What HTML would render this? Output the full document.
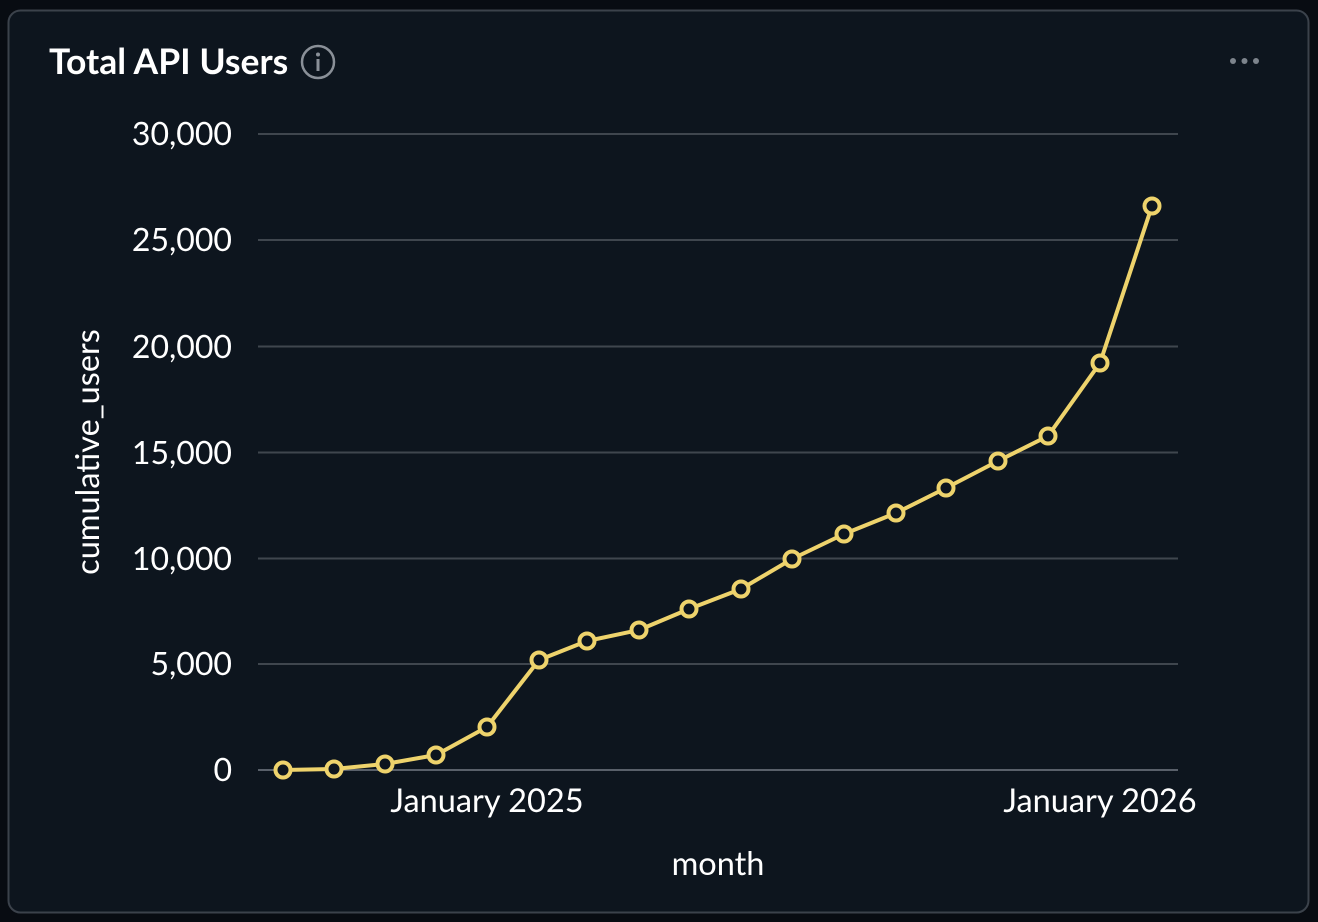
<!DOCTYPE html>
<html><head><style>
html,body{margin:0;padding:0;background:#080c12;width:1318px;height:922px;overflow:hidden}
</style></head><body>
<svg width="1318" height="922" xmlns="http://www.w3.org/2000/svg" font-family="Lato, 'Liberation Sans', sans-serif">
<rect x="8.5" y="10.5" width="1300" height="902" rx="12" fill="#0d151e" stroke="#3b424b" stroke-width="2"/>
<text x="49" y="74" font-size="35.5" font-weight="bold" fill="#ffffff">Total API Users</text>
<circle cx="318" cy="62" r="16" fill="none" stroke="#8a9098" stroke-width="2.5"/>
<circle cx="318" cy="54.5" r="2" fill="#8a9098"/>
<rect x="316.5" y="59" width="3" height="12" fill="#8a9098"/>
<circle cx="1233" cy="61" r="3" fill="#7d848c"/><circle cx="1244.5" cy="61" r="3" fill="#7d848c"/><circle cx="1256" cy="61" r="3" fill="#7d848c"/>
<g stroke="#3f464e" stroke-width="2">
<line x1="258" y1="134" x2="1178" y2="134"/><line x1="258" y1="240" x2="1178" y2="240"/>
<line x1="258" y1="346.5" x2="1178" y2="346.5"/><line x1="258" y1="452.5" x2="1178" y2="452.5"/>
<line x1="258" y1="558.5" x2="1178" y2="558.5"/><line x1="258" y1="664" x2="1178" y2="664"/>
<line x1="258" y1="770" x2="1178" y2="770" stroke="#59606a"/>
</g>
<g font-size="32" fill="#ffffff" text-anchor="end">
<text x="232" y="145">30,000</text><text x="232" y="251">25,000</text><text x="232" y="358">20,000</text>
<text x="232" y="464">15,000</text><text x="232" y="570">10,000</text><text x="232" y="675">5,000</text><text x="232" y="781">0</text>
</g>
<g font-size="32.5" fill="#ffffff" text-anchor="middle">
<text x="487" y="812">January 2025</text><text x="1100" y="812">January 2026</text>
<text x="718" y="875">month</text>
<text transform="translate(99,452) rotate(-90)">cumulative_users</text>
</g>
<polyline fill="none" stroke="#eed36c" stroke-width="4" stroke-linejoin="round" points="283,770 334,769 385,764 436,755 487,727 539,660 587,641 639,630 689,609 741,589 792,559 844,534 896,513 946,488 998,461 1048,436 1100,363 1152,206"/>
<g fill="#0d151e" stroke="#eed36c" stroke-width="4">
<circle cx="283" cy="770" r="7.5"/><circle cx="334" cy="769" r="7.5"/><circle cx="385" cy="764" r="7.5"/><circle cx="436" cy="755" r="7.5"/><circle cx="487" cy="727" r="7.5"/><circle cx="539" cy="660" r="7.5"/><circle cx="587" cy="641" r="7.5"/><circle cx="639" cy="630" r="7.5"/><circle cx="689" cy="609" r="7.5"/><circle cx="741" cy="589" r="7.5"/><circle cx="792" cy="559" r="7.5"/><circle cx="844" cy="534" r="7.5"/><circle cx="896" cy="513" r="7.5"/><circle cx="946" cy="488" r="7.5"/><circle cx="998" cy="461" r="7.5"/><circle cx="1048" cy="436" r="7.5"/><circle cx="1100" cy="363" r="7.5"/><circle cx="1152" cy="206" r="7.5"/>
</g>
</svg>
</body></html>
